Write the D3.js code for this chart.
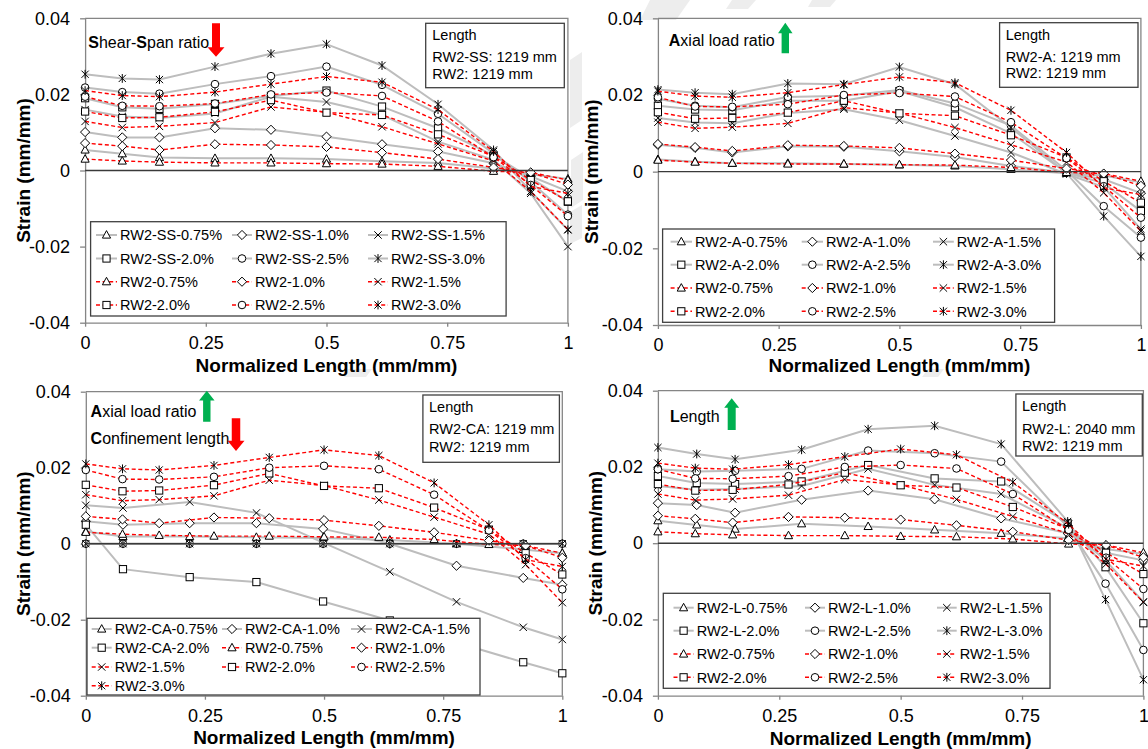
<!DOCTYPE html>
<html>
<head>
<meta charset="utf-8">
<script src="https://cdn.jsdelivr.net/npm/d3@7"></script>
<style>
  html, body { margin: 0; padding: 0; background: #fff; }
  svg { display: block; font-family: "Liberation Sans", Arial, sans-serif; }
</style>
</head>
<body>
<svg id="chart" width="1148" height="749"></svg>
<script>
// Normalized gauge positions along the wall length
const posRW2 = [0, 0.077, 0.154, 0.269, 0.385, 0.5, 0.615, 0.731, 0.846, 0.923, 1];
const posCA  = [0, 0.078, 0.218, 0.358, 0.498, 0.638, 0.778, 0.918, 1];
const posL   = [0, 0.08, 0.159, 0.296, 0.433, 0.57, 0.707, 0.844, 0.922, 1];

// Drift levels and their marker symbols
const drifts  = ["0.75%", "1.0%", "1.5%", "2.0%", "2.5%", "3.0%"];
const symbols = ["triangle", "diamond", "cross", "square", "circle", "star"];

// Axis ticks
const yTicks      = [-0.04, -0.02, 0, 0.02, 0.04];
const yTickLabels = ["-0.04", "-0.02", "0", "0.02", "0.04"];
const xTicks      = [0, 0.25, 0.5, 0.75, 1];
const xTickLabels = ["0", "0.25", "0.5", "0.75", "1"];

// Strain profiles (mm/mm), one row per drift level 0.75% ... 3.0%
const strainRW2 = [
  [0.0030, 0.0025, 0.0022, 0.0020, 0.0020, 0.0018, 0.0017, 0.0011, -0.0002, -0.0005, -0.0025],
  [0.0072, 0.0064, 0.0054, 0.0069, 0.0067, 0.0062, 0.0047, 0.0030, 0.0008, -0.0005, -0.0037],
  [0.0129, 0.0113, 0.0116, 0.0126, 0.0167, 0.0153, 0.0115, 0.0070, 0.0025, -0.0055, -0.0155],
  [0.0155, 0.0138, 0.0140, 0.0154, 0.0185, 0.0152, 0.0146, 0.0095, 0.0037, -0.0025, -0.0081],
  [0.0194, 0.0170, 0.0169, 0.0176, 0.0200, 0.0205, 0.0196, 0.0129, 0.0035, -0.0038, -0.0120],
  [0.0210, 0.0197, 0.0194, 0.0206, 0.0227, 0.0247, 0.0232, 0.0160, 0.0050, -0.0042, -0.0060]
];
const strainSS = [
  [0.0054, 0.0044, 0.0034, 0.0032, 0.0032, 0.0030, 0.0024, 0.0020, 0.0005, -0.0010, -0.0022],
  [0.0101, 0.0087, 0.0087, 0.0111, 0.0107, 0.0089, 0.0069, 0.0050, 0.0019, -0.0015, -0.0055],
  [0.0160, 0.0142, 0.0138, 0.0150, 0.0194, 0.0180, 0.0146, 0.0076, 0.0028, -0.0060, -0.0200],
  [0.0190, 0.0166, 0.0162, 0.0175, 0.0196, 0.0210, 0.0168, 0.0111, 0.0040, -0.0020, -0.0082],
  [0.0218, 0.0206, 0.0202, 0.0227, 0.0248, 0.0273, 0.0225, 0.0149, 0.0045, -0.0030, -0.0116],
  [0.0253, 0.0242, 0.0239, 0.0273, 0.0307, 0.0332, 0.0276, 0.0174, 0.0054, -0.0055, -0.0156]
];
const strainA = [
  [0.0032, 0.0026, 0.0022, 0.0022, 0.0020, 0.0018, 0.0015, 0.0006, -0.0004, -0.0010, -0.0028],
  [0.0070, 0.0062, 0.0050, 0.0066, 0.0065, 0.0053, 0.0038, 0.0015, -0.0003, -0.0020, -0.0056],
  [0.0140, 0.0128, 0.0126, 0.0153, 0.0163, 0.0134, 0.0093, 0.0050, -0.0006, -0.0040, -0.0150],
  [0.0172, 0.0162, 0.0160, 0.0185, 0.0185, 0.0210, 0.0168, 0.0100, -0.0003, -0.0030, -0.0103],
  [0.0190, 0.0172, 0.0168, 0.0195, 0.0198, 0.0213, 0.0178, 0.0120, 0.0003, -0.0090, -0.0172],
  [0.0214, 0.0206, 0.0202, 0.0230, 0.0228, 0.0273, 0.0228, 0.0115, -0.0004, -0.0116, -0.0221]
];
const strainCA = [
  [0.0032, 0.0019, 0.0019, 0.0017, 0.0015, 0.0010, 0.0000, -0.0015, -0.0025],
  [0.0059, 0.0050, 0.0054, 0.0054, 0.0039, 0.0000, -0.0058, -0.0090, -0.0108],
  [0.0101, 0.0094, 0.0110, 0.0081, 0.0003, -0.0074, -0.0153, -0.0220, -0.0252],
  [0.0050, -0.0067, -0.0088, -0.0101, -0.0152, -0.0202, -0.0260, -0.0312, -0.0341],
  [0, 0, 0, 0, 0, 0, 0, 0, 0],
  [0, 0, 0, 0, 0, 0, 0, 0, 0]
];
const strainL = [
  [0.0059, 0.0048, 0.0037, 0.0051, 0.0044, 0.0035, 0.0026, 0.0013, -0.0015, -0.0028],
  [0.0105, 0.0100, 0.0080, 0.0114, 0.0138, 0.0115, 0.0065, 0.0026, -0.0025, -0.0045],
  [0.0150, 0.0140, 0.0142, 0.0150, 0.0195, 0.0153, 0.0129, 0.0040, -0.0045, -0.0154],
  [0.0176, 0.0158, 0.0155, 0.0162, 0.0205, 0.0170, 0.0162, 0.0052, -0.0063, -0.0210],
  [0.0194, 0.0188, 0.0190, 0.0195, 0.0243, 0.0236, 0.0214, 0.0044, -0.0106, -0.0280],
  [0.0251, 0.0234, 0.0220, 0.0245, 0.0299, 0.0308, 0.0260, 0.0057, -0.0148, -0.0358]
];

// Styles
const GRAY_LINE = "#bdbdbd";
const RED_LINE = "#ff0000";
const FRAME = "#858585";
const RED_ARROW = "#ff0000";
const GREEN_ARROW = "#00b050";

// Panel layout
const panels = [
  {
    data: strainSS, pos: posRW2, prefix: "RW2-SS-", legendCount: 6,
    plot: { x0: 85.1, x1: 567.9, yTop: 18.3, yBot: 322.7 },
    yTitleX: 29.5, xTitleY: 371.5,
    legend: { x: 90.6, y: 221.7, w: 415.5, h: 94.3, rows: [235, 258.5, 281.7, 305], cols: [[96, 120], [232, 255], [368, 391]] },
    box: { x: 425.7, y: 23.3, w: 138.6, h: 64.4, tx: 432.3, lines: [40.4, 62, 78.7],
           text: ["Length", "RW2-SS: 1219 mm", "RW2: 1219 mm"] },
    notes: [{ x: 88.3, y: 48, parts: [["S", 1], ["hear-", 0], ["S", 1], ["pan ratio", 0]] }],
    arrows: [{ cx: 216, a: 23.3, b: 47.3, c: 56.7, shaft: 8, head: 17, dir: "down", color: RED_ARROW }]
  },
  {
    data: strainA, pos: posRW2, prefix: "RW2-A-", legendCount: 6,
    plot: { x0: 657.9, x1: 1140.9, yTop: 18.3, yBot: 325 },
    yTitleX: 598, xTitleY: 372,
    legend: { x: 662.6, y: 229, w: 392, h: 93.3, rows: [241.7, 264.7, 288, 311.3], cols: [[670.6, 695], [801.7, 826], [933, 956.8]] },
    box: { x: 999.6, y: 22.7, w: 138.4, h: 64.6, tx: 1005.7, lines: [40, 62, 78],
           text: ["Length", "RW2-A: 1219 mm", "RW2: 1219 mm"] },
    notes: [{ x: 668.8, y: 45.8, parts: [["A", 1], ["xial load ratio", 0]] }],
    arrows: [{ cx: 785.3, a: 22.7, b: 33.3, c: 53.3, shaft: 7.4, head: 14.5, dir: "up", color: GREEN_ARROW }]
  },
  {
    data: strainCA, pos: posCA, prefix: "RW2-CA-", legendCount: 4,
    plot: { x0: 85.8, x1: 562.3, yTop: 391.7, yBot: 695.7 },
    yTitleX: 29.5, xTitleY: 744,
    legend: { x: 87, y: 618.3, w: 393, h: 76.7, rows: [629, 647.7, 667, 685.7], cols: [[91.7, 114.7], [222, 245], [351, 375]] },
    box: { x: 422.9, y: 395, w: 136.5, h: 67.3, tx: 429, lines: [412, 434, 451.5],
           text: ["Length", "RW2-CA: 1219 mm", "RW2: 1219 mm"] },
    notes: [
      { x: 90.6, y: 416.5, parts: [["A", 1], ["xial load ratio", 0]] },
      { x: 90.6, y: 444, parts: [["C", 1], ["onfinement length", 0]] }
    ],
    arrows: [
      { cx: 206.8, a: 390.7, b: 400.5, c: 421.7, shaft: 7.4, head: 15.5, dir: "up", color: GREEN_ARROW },
      { cx: 236, a: 418.3, b: 440.7, c: 451, shaft: 8.5, head: 17, dir: "down", color: RED_ARROW }
    ]
  },
  {
    data: strainL, pos: posL, prefix: "RW2-L-", legendCount: 6,
    plot: { x0: 657.9, x1: 1143.4, yTop: 390.7, yBot: 695.7 },
    yTitleX: 601.5, xTitleY: 745,
    legend: { x: 663.3, y: 593.3, w: 386.7, h: 95, rows: [607.7, 630.7, 654, 677.3], cols: [[673.5, 696.7], [805, 828], [937, 959.7]] },
    box: { x: 1015.9, y: 394, w: 126.4, h: 62, tx: 1022, lines: [411, 434, 450.5],
           text: ["Length", "RW2-L: 2040 mm", "RW2: 1219 mm"] },
    notes: [{ x: 669.9, y: 421.5, parts: [["L", 1], ["ength", 0]] }],
    arrows: [{ cx: 731.7, a: 398.3, b: 407.8, c: 430, shaft: 8, head: 15, dir: "up", color: GREEN_ARROW }]
  }
];

const svg = d3.select("#chart");

// Faint background streaks
const streaks = [
  [[570, 60], [582, 52], [582, 120], [570, 128]],
  [[571, 160], [583, 152], [583, 200], [571, 208]],
  [[570, 212], [582, 205], [582, 238], [570, 244]],
  [[650, 0], [690, 0], [676, 20], [640, 20]],
  [[732, 0], [756, 0], [748, 9], [726, 9]],
  [[812, 0], [836, 0], [830, 7], [808, 7]],
  [[348, 369], [372, 369], [366, 377], [344, 377]],
  [[928, 369], [944, 369], [938, 377], [922, 377]]
];
svg.append("g").selectAll("path").data(streaks).join("path")
  .attr("d", d => "M" + d.map(p => p.join(",")).join("L") + "Z")
  .attr("fill", "#ededed");

function drawMarker(g, type, x, y) {
  const stroke = "#000", sw = 1;
  if (type === "triangle") {
    g.append("path").attr("d", `M${x},${y - 4.4}L${x + 4.1},${y + 3.1}L${x - 4.1},${y + 3.1}Z`)
      .attr("fill", "#fff").attr("stroke", stroke).attr("stroke-width", sw);
  } else if (type === "diamond") {
    g.append("path").attr("d", `M${x},${y - 4.6}L${x + 4.6},${y}L${x},${y + 4.6}L${x - 4.6},${y}Z`)
      .attr("fill", "#fff").attr("stroke", stroke).attr("stroke-width", sw);
  } else if (type === "square") {
    g.append("rect").attr("x", x - 3.6).attr("y", y - 3.6).attr("width", 7.2).attr("height", 7.2)
      .attr("fill", "#fff").attr("stroke", stroke).attr("stroke-width", sw);
  } else if (type === "circle") {
    g.append("circle").attr("cx", x).attr("cy", y).attr("r", 3.8)
      .attr("fill", "#fff").attr("stroke", stroke).attr("stroke-width", sw);
  } else if (type === "cross") {
    g.append("path").attr("d", `M${x - 3.7},${y - 3.7}L${x + 3.7},${y + 3.7}M${x + 3.7},${y - 3.7}L${x - 3.7},${y + 3.7}`)
      .attr("fill", "none").attr("stroke", stroke).attr("stroke-width", sw);
  } else if (type === "star") {
    g.append("path").attr("d", `M${x - 3.6},${y - 3.6}L${x + 3.6},${y + 3.6}M${x + 3.6},${y - 3.6}L${x - 3.6},${y + 3.6}M${x},${y - 4.4}L${x},${y + 4.4}`)
      .attr("fill", "none").attr("stroke", stroke).attr("stroke-width", sw);
  }
}

function lineStyle(sel, red) {
  sel.attr("fill", "none")
    .attr("stroke", red ? RED_LINE : GRAY_LINE)
    .attr("stroke-width", red ? 1.4 : 2)
    .attr("stroke-dasharray", red ? "4,2.6" : null);
}

function drawArrow(g, a) {
  const hs = a.shaft / 2, hh = a.head / 2;
  let d;
  if (a.dir === "down") {
    d = `M${a.cx - hs},${a.a}L${a.cx + hs},${a.a}L${a.cx + hs},${a.b}L${a.cx + hh},${a.b}` +
        `L${a.cx},${a.c}L${a.cx - hh},${a.b}L${a.cx - hs},${a.b}Z`;
  } else {
    d = `M${a.cx},${a.a}L${a.cx + hh},${a.b}L${a.cx + hs},${a.b}L${a.cx + hs},${a.c}` +
        `L${a.cx - hs},${a.c}L${a.cx - hs},${a.b}L${a.cx - hh},${a.b}Z`;
  }
  g.append("path").attr("d", d).attr("fill", a.color);
}

panels.forEach(p => {
  const g = svg.append("g");
  const { x0, x1, yTop, yBot } = p.plot;
  const x = d3.scaleLinear().domain([0, 1]).range([x0, x1]);
  const y = d3.scaleLinear().domain([-0.04, 0.04]).range([yBot, yTop]);

  // Plot frame (top and right)
  g.append("path").attr("d", `M${x0},${yTop}L${x1},${yTop}L${x1},${yBot}`)
    .attr("fill", "none").attr("stroke", FRAME).attr("stroke-width", 1.3);

  // Axes
  const yAxis = d3.axisLeft(y).tickValues(yTicks).tickFormat((d, i) => yTickLabels[i])
    .tickSize(5).tickSizeOuter(0).tickPadding(10);
  const ya = g.append("g").attr("transform", `translate(${x0},0)`).call(yAxis);
  const xAxis = d3.axisBottom(x).tickValues(xTicks).tickFormat((d, i) => xTickLabels[i])
    .tickSize(4).tickSizeOuter(0).tickPadding(9.5);
  const xa = g.append("g").attr("transform", `translate(0,${yBot})`).call(xAxis);
  [ya, xa].forEach(a => {
    a.attr("font-family", null).attr("font-size", null);
    a.select(".domain").attr("stroke", FRAME).attr("stroke-width", 1.3);
    a.selectAll(".tick line").attr("stroke", FRAME).attr("stroke-width", 1.3);
    a.selectAll(".tick text").attr("fill", "#000").style("font-size", "18px");
  });

  // Axis titles
  g.append("text")
    .attr("transform", `translate(${p.yTitleX},${(yTop + yBot) / 2}) rotate(-90)`)
    .attr("text-anchor", "middle").style("font-size", "19px").style("font-weight", "bold")
    .text("Strain (mm/mm)");
  g.append("text")
    .attr("x", (x0 + x1) / 2).attr("y", p.xTitleY)
    .attr("text-anchor", "middle").style("font-size", "19px").style("font-weight", "bold")
    .text("Normalized Length (mm/mm)");

  // Series: specimen-specific (gray, solid) then RW2 reference (red, dashed)
  const seriesList = [];
  p.data.forEach((vals, i) => seriesList.push({ name: p.prefix + drifts[i], pos: p.pos, vals, sym: symbols[i], red: false, inLegend: i < p.legendCount }));
  strainRW2.forEach((vals, i) => seriesList.push({ name: "RW2-" + drifts[i], pos: posRW2, vals, sym: symbols[i], red: true, inLegend: true }));

  const line = d3.line().x(d => x(d[0])).y(d => y(d[1]));
  seriesList.forEach(s => {
    const pts = s.pos.map((px, k) => [px, s.vals[k]]);
    const sg = g.append("g");
    sg.append("path").attr("d", line(pts)).call(lineStyle, s.red);
    pts.forEach(pt => drawMarker(sg, s.sym, x(pt[0]), y(pt[1])));
  });

  // Zero line
  g.append("line").attr("x1", x0).attr("x2", x1).attr("y1", y(0)).attr("y2", y(0))
    .attr("stroke", "#3a3a3a").attr("stroke-width", 1.4);

  // Legend
  const L = p.legend;
  const lg = g.append("g");
  lg.append("rect").attr("x", L.x).attr("y", L.y).attr("width", L.w).attr("height", L.h)
    .attr("fill", "#fff").attr("stroke", "#404040").attr("stroke-width", 1.3);
  seriesList.filter(s => s.inLegend).forEach((s, i) => {
    const r = Math.floor(i / 3), c = i % 3;
    const cy = L.rows[r], [ls, ts] = L.cols[c];
    const le = ts - 3, mx = (ls + le) / 2;
    lg.append("line").attr("x1", ls).attr("x2", le).attr("y1", cy).attr("y2", cy).call(lineStyle, s.red);
    drawMarker(lg, s.sym, mx, cy);
    lg.append("text").attr("x", ts).attr("y", cy).attr("dy", "0.36em")
      .style("font-size", "14.5px").attr("fill", "#000").text(s.name);
  });

  // Length box
  const B = p.box;
  g.append("rect").attr("x", B.x).attr("y", B.y).attr("width", B.w).attr("height", B.h)
    .attr("fill", "#fff").attr("stroke", "#404040").attr("stroke-width", 1.3);
  B.text.forEach((t, i) => g.append("text").attr("x", B.tx).attr("y", B.lines[i])
    .style("font-size", "14.5px").attr("fill", "#000").text(t));

  // Parameter notes and arrows
  p.notes.forEach(n => {
    const t = g.append("text").attr("x", n.x).attr("y", n.y).style("font-size", "16px").attr("fill", "#000");
    n.parts.forEach(([s, b]) => t.append("tspan").style("font-weight", b ? "bold" : "normal").text(s));
  });
  p.arrows.forEach(a => drawArrow(g, a));
});
</script>
</body>
</html>
